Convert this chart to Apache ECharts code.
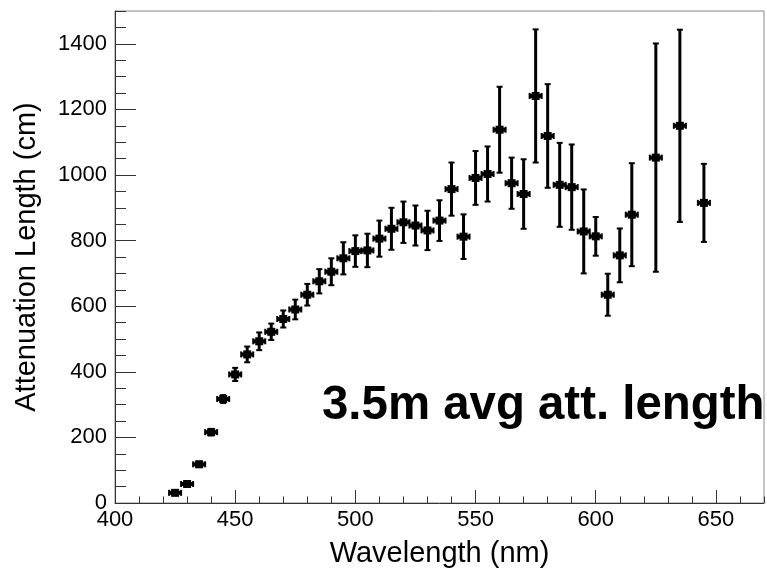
<!DOCTYPE html>
<html>
<head>
<meta charset="utf-8">
<script src="https://cdn.jsdelivr.net/npm/echarts@6/dist/echarts.min.js"></script>
<style>
html,body{margin:0;padding:0;background:#fff;}
#chart{width:767px;height:578px;}
</style>
</head>
<body>
<div id="chart"></div>
<script>
// Data
var wavelength = [425,430,435,440,445,450,455,460,465,470,475,480,485,490,495,500,505,510,515,520,525,530,535,540,545,550,555,560,565,570,575,580,585,590,595,600,605,610,615,625,635,645];
var attLength  = [31,58,118,216,317,392,453,493,522,561,590,635,676,705,746,768,770,806,836,856,846,831,861,957,812,991,1003,1138,975,942,1241,1119,970,963,828,813,635,755,879,1053,1150,915];
var attError   = [5,6,8,10,12,20,24,27,25,26,30,33,37,41,49,48,51,55,64,63,61,60,62,81,68,82,84,131,78,106,203,158,128,130,128,59,64,82,157,348,293,119];
var wlError = 2.5;
var xTicksMajor = [400,450,500,550,600,650];
var yTicksMajor = [0,200,400,600,800,1000,1200,1400];
var annotation = '3.5m avg att. length';

var points = wavelength.map(function (w, i) { return [w, attLength[i], wlError, attError[i]]; });

var chart = echarts.init(document.getElementById('chart'), null, {renderer: 'canvas'});
var FONT = '"Liberation Sans", Arial, Helvetica, sans-serif';
var axisCol = '#333';

function renderItem(params, api) {
  var x = api.value(0), y = api.value(1), ex = api.value(2), ey = api.value(3);
  var c = api.coord([x, y]);
  var l = api.coord([x - ex, y]);
  var r = api.coord([x + ex, y]);
  var t = api.coord([x, y + ey]);
  var b = api.coord([x, y - ey]);
  var stH = {stroke: '#000', lineWidth: 4};
  var stV = {stroke: '#000', lineWidth: 3};
  var cap = {stroke: '#000', lineWidth: 2};
  var ch = 3;
  return {
    type: 'group',
    children: [
      {type: 'line', shape: {x1: l[0], y1: c[1], x2: r[0], y2: c[1]}, style: stH},
      {type: 'line', shape: {x1: c[0], y1: t[1], x2: c[0], y2: b[1]}, style: stV},
      {type: 'line', shape: {x1: c[0] - ch, y1: t[1], x2: c[0] + ch, y2: t[1]}, style: cap},
      {type: 'line', shape: {x1: c[0] - ch, y1: b[1], x2: c[0] + ch, y2: b[1]}, style: cap},
      {type: 'line', shape: {x1: l[0], y1: c[1] - ch, x2: l[0], y2: c[1] + ch}, style: cap},
      {type: 'line', shape: {x1: r[0], y1: c[1] - ch, x2: r[0], y2: c[1] + ch}, style: cap},
      {type: 'rect', shape: {x: c[0] - 4, y: c[1] - 4, width: 8, height: 8}, style: {fill: '#000'}}
    ]
  };
}

var option = {
  animation: false,
  backgroundColor: '#fff',
  grid: {left: 115, right: 3, top: 11, bottom: 75, show: true, borderColor: '#888', borderWidth: 1, backgroundColor: 'transparent'},
  xAxis: [
    {
      type: 'value', min: 400, max: 670, interval: 50,
      name: 'Wavelength (nm)', nameLocation: 'middle', nameGap: 36,
      nameTextStyle: {fontFamily: FONT, fontSize: 29, color: '#000'},
      axisLine: {show: true, lineStyle: {color: axisCol, width: 1}},
      axisTick: {show: true, inside: true, length: 13, lineStyle: {color: axisCol}},
      axisLabel: {fontFamily: FONT, fontSize: 22, color: '#000', margin: 6, showMaxLabel: false,
        formatter: function (v) { return xTicksMajor.indexOf(v) >= 0 ? String(v) : ''; }},
      splitLine: {show: false}
    },
    {
      type: 'value', min: 400, max: 670, interval: 10, position: 'bottom',
      axisLine: {show: false},
      axisTick: {show: true, inside: true, length: 6.5, lineStyle: {color: axisCol}},
      axisLabel: {show: false},
      splitLine: {show: false}
    }
  ],
  yAxis: [
    {
      type: 'value', min: 0, max: 1500, interval: 200,
      name: 'Attenuation Length (cm)', nameLocation: 'middle', nameGap: 74, nameRotate: 90,
      nameTextStyle: {fontFamily: FONT, fontSize: 29, color: '#000'},
      axisLine: {show: true, lineStyle: {color: axisCol, width: 1}},
      axisTick: {show: true, inside: true, length: 21, lineStyle: {color: axisCol}},
      axisLabel: {fontFamily: FONT, fontSize: 22, color: '#000', margin: 8, showMaxLabel: false,
        formatter: function (v) { return yTicksMajor.indexOf(v) >= 0 ? String(v) : ''; }},
      splitLine: {show: false}
    },
    {
      type: 'value', min: 0, max: 1500, interval: 50, position: 'left',
      axisLine: {show: false},
      axisTick: {show: true, inside: true, length: 11, lineStyle: {color: axisCol}},
      axisLabel: {show: false},
      splitLine: {show: false}
    }
  ],
  graphic: [
    {type: 'text', left: 322, top: 382, style: {text: annotation, font: 'bold 47.4px ' + FONT, fill: '#000'}, z: 100}
  ],
  series: [
    {type: 'custom', xAxisIndex: 0, yAxisIndex: 0, renderItem: renderItem, data: points, clip: false, z: 10}
  ]
};
chart.setOption(option);
</script>
</body>
</html>
